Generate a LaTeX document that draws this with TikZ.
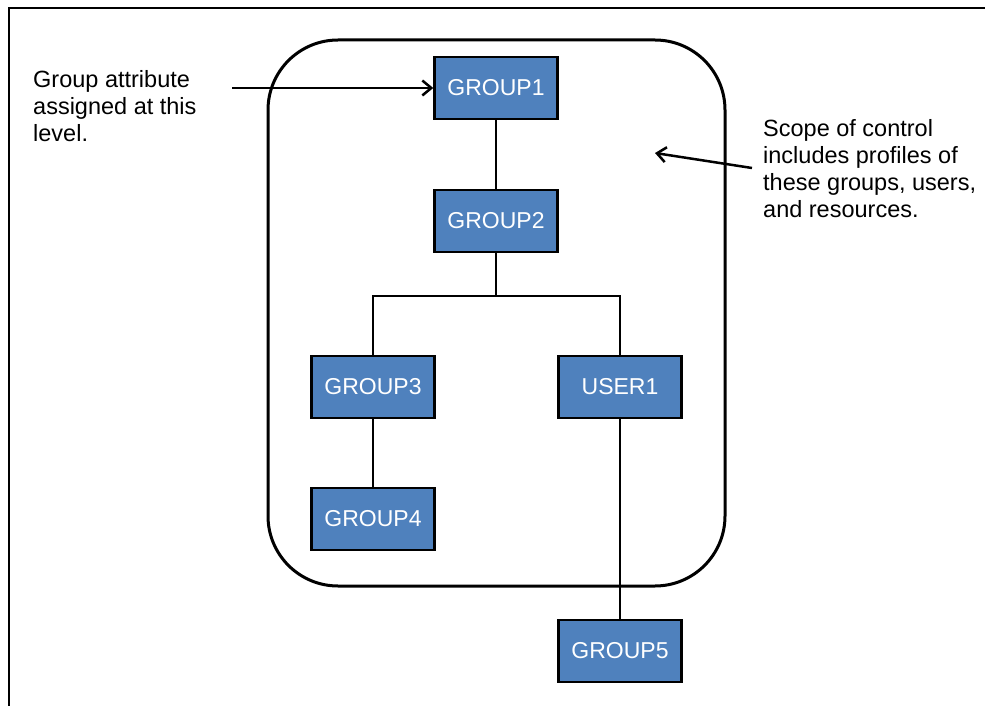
\documentclass[tikz,border=0pt]{standalone}
\usepackage{fontspec}
\setmainfont{Liberation Sans}
\usepackage{tikz}
\usetikzlibrary{arrows.meta}

\definecolor{boxblue}{HTML}{4F81BD}

\begin{document}
\begin{tikzpicture}[x=1pt, y=-1pt,
    grpbox/.style={draw, line width=2.5pt, fill=boxblue, text=white, rectangle, minimum width=123pt, minimum height=62pt, font=\fontsize{23}{27}\selectfont},
    note/.style={align=left, inner sep=0pt, anchor=north west, font=\fontsize{23.5}{27.2}\selectfont},
    link/.style={line width=2pt},
    pointer/.style={-{Straight Barb[length=9pt, width=15pt]}, line width=2.5pt}]
    \useasboundingbox (0, 0) rectangle (985, 706);
    \draw[line width=2pt] (9, 706) -- (9, 8) -- (985, 8);
    \draw[line width=3pt, rounded corners=70pt] (268, 40) rectangle (725, 586);

    \node[grpbox] at (496, 88) (G1) {GROUP1};
    \node[grpbox] at (496, 221) (G2) {GROUP2};
    \node[grpbox] at (373, 387) (G3) {GROUP3};
    \node[grpbox] at (620, 387) (U1) {USER1};
    \node[grpbox] at (373, 519) (G4) {GROUP4};
    \node[grpbox] at (620, 651) (G5) {GROUP5};
    \coordinate (split) at (496, 296);

    \draw[link] (G1) -- (G2);
    \draw[link] (G2) -- (split);
    \draw[link] (split) -| (G3);
    \draw[link] (split) -| (U1);
    \draw[link] (G3) -- (G4);
    \draw[link] (U1) -- (G5);

    \node[note] at (33, 70) (attrNote) {Group attribute\\assigned at this\\level.};
    \node[note] at (763, 119) (scopeNote) {Scope of control\\includes profiles of\\these groups, users,\\and resources.};
    \coordinate (attrTail) at (232, 88);
    \coordinate (scopeTail) at (752, 168);
    \coordinate (scopeHead) at (655, 153);

    \draw[pointer] (attrTail) -- (G1);
    \draw[pointer] (scopeTail) -- (scopeHead);
\end{tikzpicture}
\end{document}
